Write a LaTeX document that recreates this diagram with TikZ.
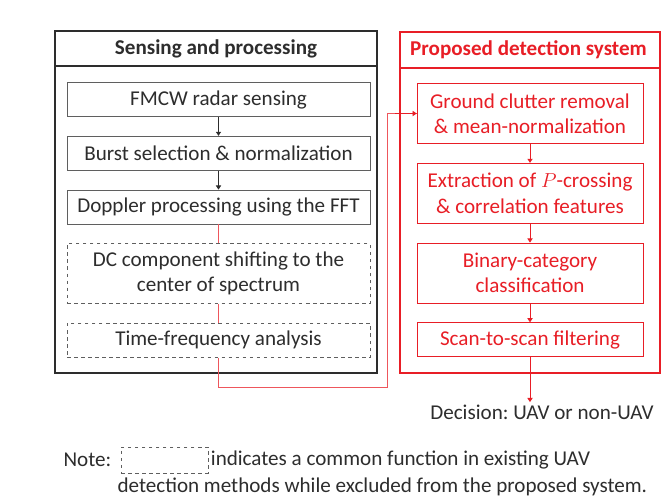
\documentclass[tikz,border=0pt]{standalone}
\usepackage{fontspec}
\setmainfont{Carlito}
\usepackage{tikz}
\usetikzlibrary{positioning,arrows.meta,calc}

\definecolor{sysred}{RGB}{232,30,38}
\definecolor{boxgray}{RGB}{95,95,95}
\definecolor{txtgray}{RGB}{45,45,45}
\newcommand{\boxfont}{\fontsize{18}{21.5}\selectfont\frenchspacing}

\begin{document}
\begin{tikzpicture}[x=0.03cm, y=-0.03cm, node distance=0.57cm,
    step_box/.style={draw=boxgray, line width=0.6pt, fill=white, align=center, text=txtgray, font=\boxfont, minimum width=9.09cm, minimum height=1.02cm},
    common_box/.style={step_box, dashed},
    sys_box/.style={draw=sysred, line width=0.6pt, fill=white, align=center, text=sysred, font=\boxfont, minimum width=6.78cm, minimum height=1.8cm},
    title_text/.style={font=\boxfont\bfseries},
    plain_text/.style={text=txtgray, font=\boxfont, inner sep=2pt},
    gray_arrow/.style={-{Triangle[length=3.5pt, width=4.5pt]}, line width=0.6pt, draw=txtgray},
    red_arrow/.style={-{Triangle[length=3.5pt, width=4.5pt]}, line width=0.7pt, draw=sysred},
    feed_line/.style={line width=0.7pt, draw=sysred!75}]
    \useasboundingbox (0,0) rectangle (666,497);

    % sensing and processing
    \draw[line width=1.6pt, draw=txtgray] (55,31) rectangle (377,373);
    \draw[line width=1.3pt, draw=txtgray] (55,66) -- (377,66);
    \node[title_text, text=txtgray] (sense_title) at (216,48.5) {Sensing and processing};

    \node[step_box] (fmcw) at (218.5,99.5) {FMCW radar sensing};
    \node[step_box, below=of fmcw] (burst) {Burst selection \& normalization};
    \node[step_box, below=of burst] (doppler) {Doppler processing using the FFT};
    \node[common_box, below=of doppler, minimum height=1.8cm] (dc_shift) {DC component shifting to the\\center of spectrum};
    \node[common_box, below=of dc_shift] (tf_analysis) {Time-frequency analysis};

    \draw[gray_arrow] (fmcw) -- (burst);
    \draw[gray_arrow] (burst) -- (doppler);

    % proposed detection system
    \draw[line width=1.6pt, draw=sysred] (400,32) rectangle (660,373);
    \draw[line width=1.3pt, draw=sysred] (400,68) -- (660,68);
    \node[title_text, text=sysred] (sys_title) at (528.5,50) {Proposed detection system};

    \node[sys_box] (clutter) at (530,113.5) {Ground clutter removal\\\& mean-normalization};
    \node[sys_box, below=of clutter] (features) {Extraction of $P$-crossing\\\& correlation features};
    \node[sys_box, below=of features] (classify) {Binary-category\\classification};
    \node[sys_box, below=of classify, minimum height=1.02cm] (filtering) {Scan-to-scan filtering};

    \draw[red_arrow] (clutter) -- (features);
    \draw[red_arrow] (features) -- (classify);
    \draw[red_arrow] (classify) -- (filtering);

    % feed from left to right
    \draw[feed_line] (doppler) -- (dc_shift);
    \draw[feed_line] (dc_shift) -- (tf_analysis);
    \draw[feed_line] (tf_analysis.south) |- (387,387) |- (clutter.west);
    \draw[red_arrow] (395,113.5) -- (clutter.west);

    % output
    \node[plain_text] (decision) at (542,412) {Decision: UAV or non-UAV};
    \draw[red_arrow] (filtering) -- (filtering |- decision.north);

    % note
    \node[plain_text, anchor=west] (note) at (61,460) {Note:};
    \node[draw=boxgray, dashed, line width=0.6pt, minimum width=2.61cm, minimum height=0.78cm] (note_box) at (164.5,460) {};
    \node[plain_text, anchor=west] (note_line1) at (note_box.east) {indicates a common function in existing UAV};
    \node[plain_text, anchor=west] (note_line2) at (115,487) {detection methods while excluded from the proposed system.};
\end{tikzpicture}
\end{document}
